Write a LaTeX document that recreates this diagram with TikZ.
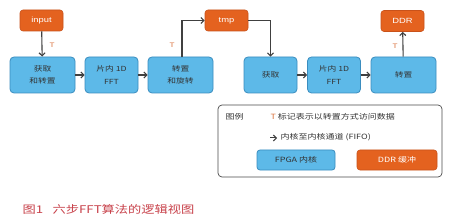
\documentclass[tikz,border=0pt]{standalone}
\usepackage{fontspec}
\setmainfont{Liberation Sans}[FakeStretch=1.25]
\newfontfamily\cjk{Noto Sans CJK SC}[FakeStretch=1.25]
\usetikzlibrary{arrows.meta}
\definecolor{bfill}{HTML}{5DB9E8}
\definecolor{bdraw}{HTML}{3A8DBF}
\definecolor{ofill}{HTML}{E4621F}
\definecolor{odraw}{HTML}{C9521A}
\definecolor{lineg}{HTML}{404040}
\definecolor{capred}{HTML}{C8414A}
\definecolor{tcol}{HTML}{D9703A}
\tikzset{
  kern/.style={draw=bdraw, fill=bfill, line width=0.8pt, rounded corners=4pt, minimum width=65pt, minimum height=36pt, align=center, font=\cjk\fontsize{7}{12.5}\selectfont, text=black!80},
  kernn/.style={kern, minimum width=53pt},
  buf/.style={draw=odraw, fill=ofill, line width=0.6pt, rounded corners=3pt, minimum width=43pt, minimum height=21pt, font=\fontsize{7.5}{8}\selectfont, text=white},
  flow/.style={draw=lineg, line width=1.1pt, -{Straight Barb[length=3pt,width=6pt]}},
  tlab/.style={text=tcol, font=\fontsize{6.5}{7}\selectfont},
  leg/.style={font=\cjk\fontsize{7.2}{8}\selectfont, text=black!80}
}
\begin{document}
\begin{tikzpicture}[x=1pt,y=-1pt]
\useasboundingbox (0,0) rectangle (449,224);
\fill[white] (0,0) rectangle (449,224);
% buffers
\node[buf] (in) at (41.5,20.5) {input};
\node[buf] (tmp) at (226.5,20.5) {tmp};
\node[buf] (ddr) at (402.5,21) {DDR};
% kernels
\node[kern] (k1) at (42.5,75) {获取\\和转置};
\node[kernn] (k2) at (111.5,75) {片内 1D\\FFT};
\node[kern] (k3) at (180.5,75) {转置\\和旋转};
\node[kernn] (k4) at (270.5,75) {获取};
\node[kernn] (k5) at (334,75) {片内 1D\\FFT};
\node[kern] (k6) at (403.5,75) {转置};
% flows
\draw[flow] (in) -- (k1);
\draw[flow] (k1) -- (k2);
\draw[flow] (k2) -- (k3);
\draw[flow] (k3.north -| 182,0) |- (tmp.west);
\draw[flow] (tmp.east) -| (k4.north);
\draw[flow] (k4) -- (k5);
\draw[flow] (k5) -- (k6);
\draw[flow] (k6) -- (ddr);
\node[tlab] (t1) at (52,45) {T};
\node[tlab] (t2) at (172,45) {T};
\node[tlab] (t3) at (395,46) {T};
% legend
\node[draw=black!70, line width=0.7pt, rounded corners=4pt, minimum width=224pt, minimum height=72pt] (lg) at (330,141) {};
\node[leg, anchor=west] (lgt) at (222,117) {图例};
\node[leg, anchor=west] (lt) at (267,117) {\textcolor{tcol}{T} 标记表示以转置方式访问数据};
\coordinate (la) at (270,138);
\coordinate (lb) at (277,138);
\draw[flow, line width=1pt] (la) -- (lb);
\node[leg, anchor=west] (lf) at (277,137.5) {内核至内核通道 (FIFO)};
\node[kern, minimum width=78pt, minimum height=20pt, rounded corners=3pt, font=\cjk\fontsize{7.2}{8}\selectfont] (lk) at (296,160) {FPGA 内核};
\node[buf, minimum width=80pt, minimum height=20pt, font=\cjk\fontsize{7.2}{8}\selectfont] (lbuf) at (397,160) {DDR 缓冲};
% caption
\node[anchor=west, text=capred, font=\cjk\fontsize{10.6}{12}\selectfont] (cap) at (19,209) {图1\hspace{0.9em}六步FFT算法的逻辑视图};
\end{tikzpicture}
\end{document}
